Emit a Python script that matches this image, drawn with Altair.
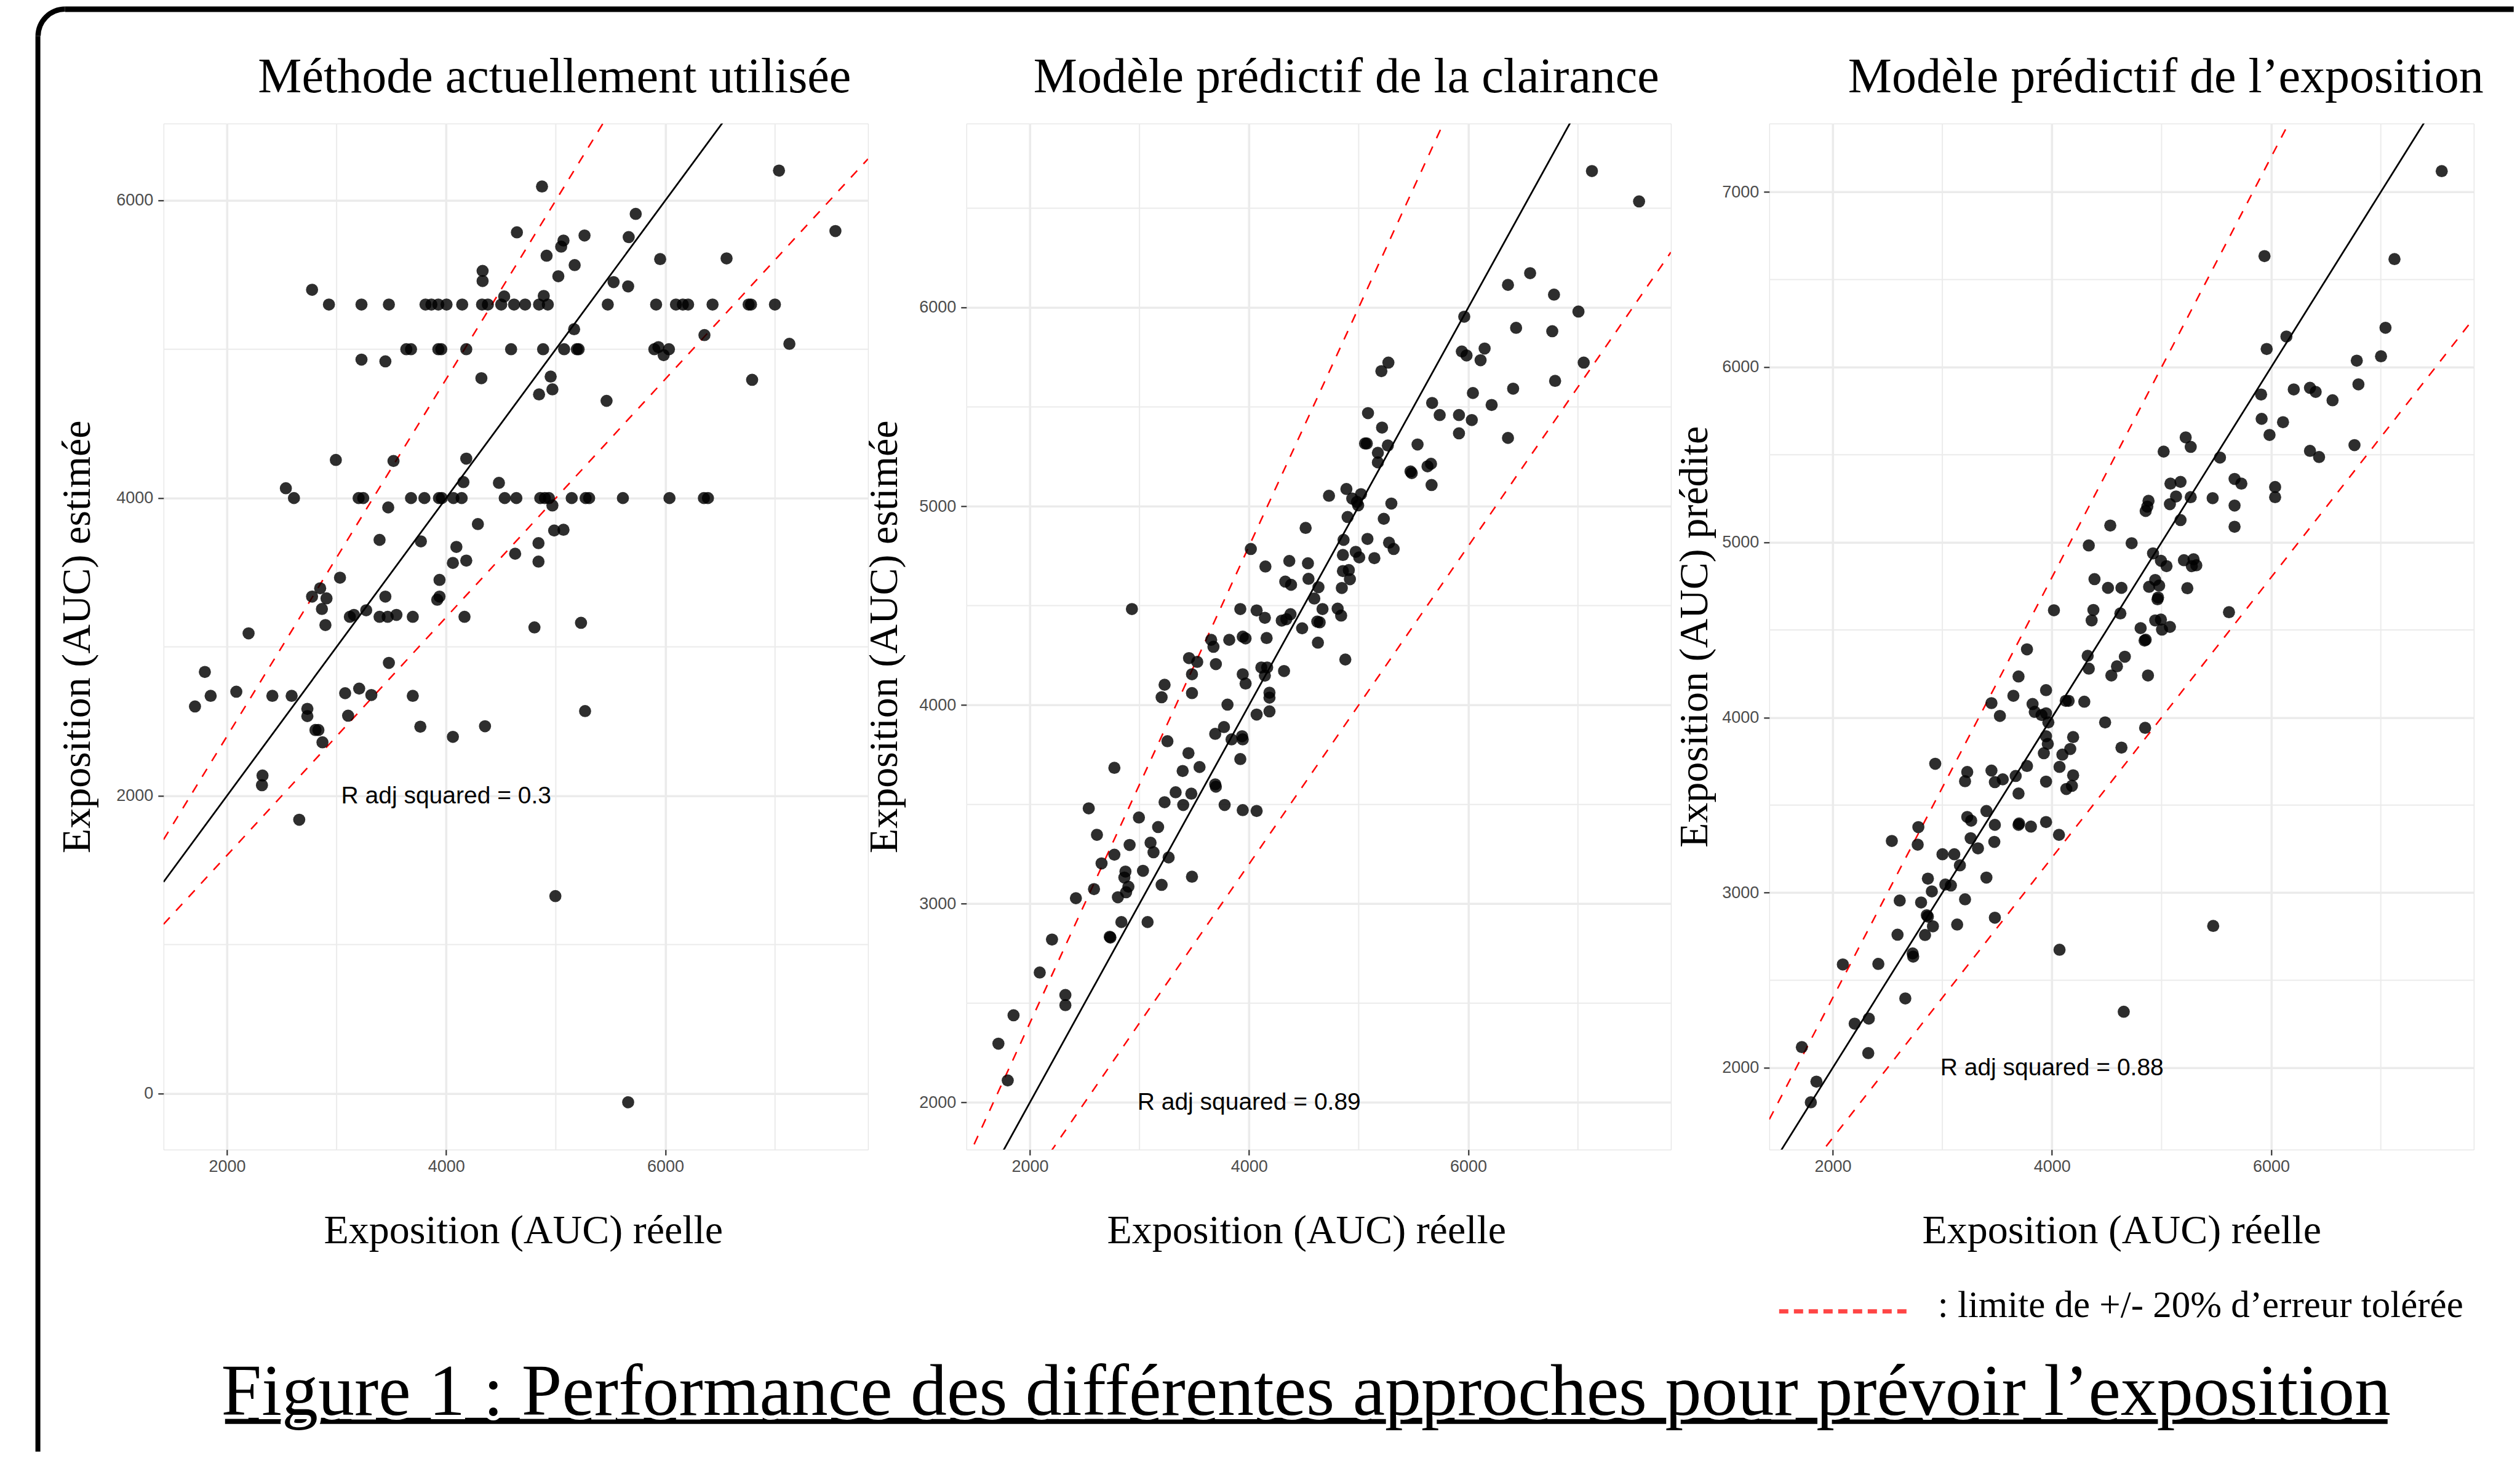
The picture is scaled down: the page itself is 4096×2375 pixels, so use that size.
import altair as alt
import pandas as pd

# ---------------- data ----------------
X_DOMAIN = [1421, 7848]
X_TICKS = [2000, 4000, 6000]
X_MINOR = [3000, 5000, 7000]
X_TITLE = "Exposition (AUC) réelle"
R2_POS = [4000, 2000]
SLOPE_SOLID = [1.0]
SLOPES_DASHED = [1.2, 0.8]

P1_TITLE = "Méthode actuellement utilisée"
P1_YTITLE = "Exposition (AUC) estimée"
P1_YDOMAIN = [-377, 6516]
P1_YTICKS = [0, 2000, 4000, 6000]
P1_YMINOR = [1000, 3000, 5000]
P1_R2 = "R adj squared = 0.3"
P1_X = [4874, 7036, 5729, 7551, 4645, 5070, 5049, 5262, 5665, 4916, 5952, 6558, 5172, 5023, 4332, 4332, 5527, 5660, 2776, 4529, 4890,
        2930, 3227, 3477, 3811, 3865, 3928, 4003, 4146, 4327, 4380, 4502, 4619, 4720, 4847, 4927, 5474, 5915, 6096, 6159, 6207, 6430, 6759, 6781, 6999,
        5167, 6356, 7131,
        3636, 3679, 3928, 3955, 4183, 4592, 4884, 5076, 5192, 5208, 5899, 5936, 6032,
        3227, 3445, 5984, 4321, 4953, 6791, 4969, 4847, 5463,
        2993, 3519, 4183, 4157, 4481, 2537,
        2611, 3201, 3243, 3679, 3801, 3934, 3960, 4066, 4141, 4534, 4640, 4858, 4900, 4937, 5145, 5272, 5304, 5612, 6037, 6351, 6388,
        3471, 4969, 4289, 4985, 5070,
        3392, 3769, 4842, 4093, 4629, 4061, 4183, 4842, 3031, 3939, 2850, 2776, 2908, 2866, 3445, 3918, 3939, 3270, 3121, 3158,
        3392, 3466, 3546, 3695, 4167, 2898, 4805, 5230, 2197, 3477, 1798, 1708, 1851, 2085, 2414, 2590, 2733, 2733, 3078, 3206,
        3317, 3695, 2807, 2834, 2871, 3105, 3764, 4061, 4354, 5267, 2324, 2319, 2659, 4996, 5660]
P1_Y = [6093, 6200, 5909, 5794, 5785, 5730, 5689, 5764, 5753, 5628, 5605, 5610, 5565, 5490, 5526, 5458, 5451, 5422, 5399, 5354, 5358,
        5300, 5300, 5300, 5300, 5300, 5300, 5300, 5300, 5300, 5300, 5300, 5300, 5300, 5300, 5300, 5300, 5300, 5300, 5300, 5300, 5300, 5300, 5300, 5300,
        5134, 5095, 5036,
        5000, 5000, 5000, 5000, 5000, 5000, 5000, 5000, 5000, 5000, 5000, 5014, 5000,
        4930, 4918, 4960, 4805, 4816, 4794, 4730, 4696, 4653,
        4256, 4249, 4265, 4107, 4102, 4066,
        4000, 4000, 4000, 4000, 4000, 4000, 4000, 4000, 4000, 4000, 4000, 4000, 4000, 4000, 4000, 4000, 4000, 4000, 4000, 4000, 4000,
        3937, 3950, 3825, 3782, 3787,
        3719, 3709, 3697, 3672, 3626, 3564, 3580, 3573, 3465, 3450, 3394, 3338, 3326, 3255, 3338, 3317, 3338, 3246, 3202, 3215,
        3202, 3202, 3215, 3202, 3202, 3147, 3131, 3162, 3091, 2893, 2832, 2600, 2671, 2699, 2671, 2671, 2584, 2535, 2689, 2720,
        2677, 2671, 2442, 2442, 2359, 2538, 2464, 2396, 2467, 2569, 2136, 2071, 1839, 1326, -59]

P2_TITLE = "Modèle prédictif de la clairance"
P2_YTITLE = "Exposition (AUC) estimée"
P2_YDOMAIN = [1763, 6926]
P2_YTICKS = [2000, 3000, 4000, 5000, 6000]
P2_YMINOR = [2500, 3500, 4500, 5500, 6500]
P2_R2 = "R adj squared = 0.89"
P2_X = [7128, 7558, 6564, 6362, 6782, 7005, 5963, 6436, 6766, 5941, 5984, 6149, 6112, 7053, 5271, 5207, 6409, 6792, 6042, 5670,
        6213, 5085, 5739, 5915, 6032, 5915, 5213, 6362, 5058, 5074, 5266, 5537, 5175, 5175, 5473, 5484, 5628, 5660, 5665, 4888,
        4729, 5021, 4941, 4995, 4984, 5298, 4899, 5229, 4516,
        4862, 5080, 5277, 5319, 4016, 4856, 4973, 5005, 4910, 5143, 4149, 4367, 4537, 4330, 4383, 4542, 4633, 4856, 4920, 4846,
        4595, 2931, 3920, 4069, 4144, 4670, 4808, 4840, 4298, 4340, 4378, 4644, 4622, 4484, 3654, 3675, 3819, 3942, 3968, 4160,
        4628, 4878, 3452, 3527, 3697, 3479, 3942, 3968, 4112, 4165, 4144, 4319, 3229, 3202, 3479, 4186, 4186, 3803, 4186, 4069,
        3771, 3691, 3840, 3936, 3942, 3255, 3447, 3920, 2771, 3394, 3548, 3691, 3697, 3330, 3473, 3229, 3399, 3777, 3942, 4069,
        2537, 2995, 3170, 2612, 2910, 3101, 3128, 2771, 3266, 2654, 2872, 2862, 3032, 3479, 2899, 2878, 2585, 3202, 2420, 2803,
        2835, 3074, 2729, 2735, 2202, 2090, 2324, 2324, 1851, 1713, 1798]
P2_Y = [6687, 6534, 6173, 6114, 6065, 5980, 5954, 5898, 5881, 5779, 5759, 5794, 5735, 5723, 5723, 5680, 5592, 5631, 5570, 5520,
        5510, 5469, 5459, 5459, 5434, 5367, 5396, 5344, 5316, 5316, 5306, 5311, 5269, 5221, 5175, 5167, 5201, 5214, 5107, 5087,
        5053, 5061, 5039, 5005, 5022, 5014, 4946, 4937, 4891,
        4831, 4836, 4817, 4785, 4785, 4755, 4771, 4743, 4679, 4739, 4697, 4725, 4713, 4621, 4605, 4635, 4593, 4674, 4633, 4589,
        4536, 4483, 4483, 4476, 4439, 4483, 4485, 4450, 4425, 4432, 4457, 4416, 4420, 4386, 4328, 4293, 4328, 4344, 4335, 4337,
        4314, 4229, 4236, 4217, 4206, 4155, 4155, 4108, 4189, 4189, 4148, 4171, 4102, 4039, 4060, 4062, 4037, 4002, 3968, 3952,
        3889, 3855, 3827, 3843, 3827, 3818, 3758, 3728, 3684, 3668, 3688, 3601, 3589, 3561, 3554, 3511, 3497, 3497, 3471, 3467,
        3480, 3434, 3386, 3347, 3296, 3307, 3259, 3247, 3233, 3203, 3162, 3132, 3166, 3136, 3086, 3058, 3074, 3095, 3028, 3033,
        2908, 2908, 2834, 2830, 2820, 2654, 2541, 2490, 2439, 2296, 2111]

P3_TITLE = "Modèle prédictif de l’exposition"
P3_YTITLE = "Exposition (AUC) prédite"
P3_YDOMAIN = [1533, 7391]
P3_YTICKS = [2000, 3000, 4000, 5000, 6000, 7000]
P3_YMINOR = [2500, 3500, 4500, 5500, 6500]
P3_R2 = "R adj squared = 0.88"
P3_X = [7556, 5939, 7125, 7043, 6139, 5959, 6781, 7002, 6796, 5908, 6206, 6354, 6406, 6560, 5913, 6108, 5985, 5220, 5266, 5019,
        5533, 6354, 6437, 6760, 5666, 5728, 5081, 5173, 6036, 6036, 4881, 4870, 4855, 5132, 5266, 5076, 5466, 5666, 5173, 4532, 5666,
        4336, 4727, 4922, 5204, 5292, 5276, 5317, 4994, 5045, 4388, 4511, 4634, 4886, 4942, 4978, 5235, 4963, 4968, 4018, 4378,
        4362, 4624, 5615, 4809, 4942, 4994, 5004, 5076, 4855, 4845, 3772, 4326, 4336, 4665, 4593, 4542, 4876, 3695, 3946, 3648,
        3448, 3823, 3843, 3905, 3946, 3967, 3525, 4152, 4126, 4295, 4485, 4850, 4193, 3946, 3962, 3926, 4167, 4095, 4634, 2935,
        3772, 4069, 3227, 3207, 3448, 3479, 3551, 3669, 3946, 4193, 4182, 4131, 3695, 3402, 3227, 3263, 3479, 3695, 3700, 3808,
        3946, 2781, 2539, 2775, 3258, 3474, 3325, 4064, 3001, 3109, 3160, 3402, 2868, 3027, 3078, 2904, 3207, 2611, 2806, 2858,
        2868, 2914, 3479, 3135, 2591, 2842, 5471, 2729, 2734, 4069, 2092, 2416, 2662, 2200, 2329, 4655, 2324, 1718, 1851, 1800]
P3_Y = [7119, 6634, 6617, 6225, 6175, 6104, 6037, 6062, 5902, 5844, 5873, 5882, 5859, 5811, 5705, 5686, 5613, 5599, 5545, 5518,
        5484, 5522, 5487, 5555, 5362, 5335, 5335, 5345, 5316, 5258, 5237, 5204, 5179, 5262, 5258, 5218, 5252, 5210, 5127, 5096, 5089,
        4982, 4995, 4937, 4898, 4903, 4864, 4869, 4895, 4864, 4790, 4740, 4740, 4746, 4785, 4753, 4738, 4675, 4685, 4612, 4614,
        4554, 4594, 4601, 4510, 4554, 4559, 4502, 4517, 4444, 4439, 4389, 4352, 4279, 4347, 4292, 4240, 4240, 4234, 4156, 4124,
        4082, 4077, 4032, 4014, 4024, 3972, 4009, 4095, 4095, 4090, 3972, 3941, 3888, 3893, 3849, 3796, 3820, 3788, 3828, 3736,
        3723, 3718, 3689, 3636, 3697, 3631, 3647, 3666, 3634, 3670, 3610, 3592, 3566, 3466, 3432, 3411, 3387, 3387, 3395, 3377,
        3403, 3374, 3295, 3274, 3311, 3290, 3253, 3330, 3219, 3219, 3156, 3086, 3080, 3046, 3041, 3007, 2962, 2955, 2944, 2871,
        2863, 2808, 2857, 2818, 2760, 2758, 2810, 2653, 2635, 2674, 2590, 2593, 2396, 2252, 2281, 2320, 2084, 2118, 1921, 1803]

LEGEND_TEXT = ": limite de +/- 20% d’erreur tolérée"
FOOTER_TEXT = "Figure 1 : Performance des différentes approches pour prévoir l’exposition"

# ---------------- styling ----------------
W, H = 1145, 1668
SERIF = "Liberation Serif"
SANS = "Liberation Sans"
GRID = "#EBEBEB"
ONE = pd.DataFrame({"k": [0]})


def ref_lines(slopes):
    rows = []
    for k in slopes:
        for xv in X_DOMAIN:
            rows.append({"k": k, "x": xv, "y": k * xv})
    return pd.DataFrame(rows)


def panel(xs, ys, ydomain, yticks, yminor, title, ytitle, r2,
          title_dx, ytitle_x, xtitle_dx, decor=None):
    xsc = alt.Scale(domain=X_DOMAIN, nice=False, zero=False)
    ysc = alt.Scale(domain=ydomain, nice=False, zero=False)
    common = dict(grid=True, gridColor=GRID, gridWidth=3.6, domain=False,
                  ticks=True, tickColor="#333333", tickSize=9, tickWidth=2.2,
                  labelFont=SANS, labelFontSize=27, labelColor="#4D4D4D",
                  titleFont=SERIF, titleFontSize=66, titleFontWeight="normal",
                  titleColor="black", format="d")
    xax = alt.Axis(values=X_TICKS, title=X_TITLE, labelPadding=6,
                   titleX=W / 2 + xtitle_dx, titleY=132, titleAlign="center",
                   titleBaseline="middle", **common)
    yax = alt.Axis(values=yticks, title=ytitle, labelPadding=8,
                   titleX=ytitle_x, titleY=H / 2, titleAngle=270,
                   titleAlign="center", titleBaseline="middle", **common)

    vminor = alt.Chart(pd.DataFrame({"v": X_MINOR})).mark_rule(
        color=GRID, strokeWidth=2.0).encode(x=alt.X("v:Q", scale=xsc, axis=xax))
    hminor = alt.Chart(pd.DataFrame({"v": yminor})).mark_rule(
        color=GRID, strokeWidth=2.0).encode(y=alt.Y("v:Q", scale=ysc, axis=yax))

    solid = alt.Chart(ref_lines(SLOPE_SOLID)).mark_line(
        color="black", strokeWidth=2.8, clip=True).encode(
        x=alt.X("x:Q", scale=xsc, axis=xax), y=alt.Y("y:Q", scale=ysc, axis=yax),
        detail="k:N")
    dashed = alt.Chart(ref_lines(SLOPES_DASHED)).mark_line(
        color="#FF0000", strokeWidth=2.5, strokeDash=[15, 15], clip=True).encode(
        x=alt.X("x:Q", scale=xsc, axis=xax), y=alt.Y("y:Q", scale=ysc, axis=yax),
        detail="k:N")
    pts = alt.Chart(pd.DataFrame({"x": xs, "y": ys})).mark_circle(
        size=390, color="black", opacity=0.82).encode(
        x=alt.X("x:Q", scale=xsc, axis=xax), y=alt.Y("y:Q", scale=ysc, axis=yax))
    txt = alt.Chart(pd.DataFrame({"x": [R2_POS[0]], "y": [R2_POS[1]], "t": [r2]})).mark_text(
        font=SANS, fontSize=39, color="black", align="center", baseline="middle").encode(
        x=alt.X("x:Q", scale=xsc, axis=xax), y=alt.Y("y:Q", scale=ysc, axis=yax), text="t:N")
    ttl = alt.Chart(ONE).mark_text(text=title, font=SERIF, fontSize=80, color="black",
                                   align="center", baseline="alphabetic").encode(
        x=alt.value(W / 2 + title_dx), y=alt.value(-51))

    layers = (decor or []) + [vminor, hminor, solid, dashed, pts, txt, ttl]
    return alt.layer(*layers).properties(width=W, height=H)


# ---------------- decorations (relative to panel 1 plot origin) ----------------
BX, BY = -208.2, -190.2       # outer left / top edge of the frame
R_OUT = 48
decor = [
    alt.Chart(ONE).mark_rect(color="black").encode(
        x=alt.value(BX + R_OUT), x2=alt.value(3820), y=alt.value(BY), y2=alt.value(BY + 9)),
    alt.Chart(ONE).mark_rect(color="black").encode(
        x=alt.value(BX), x2=alt.value(BX + 8), y=alt.value(BY + R_OUT), y2=alt.value(2159)),
    alt.Chart(ONE).mark_arc(color="black", radius=R_OUT, radius2=R_OUT - 8.5,
                            theta=4.712389, theta2=6.283185).encode(
        x=alt.value(BX + R_OUT), y=alt.value(BY + R_OUT)),
    # legend
    alt.Chart(ONE).mark_rule(color="#FF4545", strokeWidth=7, strokeDash=[15, 9]).encode(
        x=alt.value(2626), x2=alt.value(2840), y=alt.value(1931)),
    alt.Chart(ONE).mark_text(text=LEGEND_TEXT, font=SERIF, fontSize=61, color="black",
                             align="left", baseline="alphabetic").encode(
        x=alt.value(2884), y=alt.value(1940)),
    # footer with underline
    alt.Chart(ONE).mark_rect(color="black").encode(
        x=alt.value(100), x2=alt.value(3615), y=alt.value(2104), y2=alt.value(2114)),
    alt.Chart(ONE).mark_text(text=FOOTER_TEXT, font=SERIF, fontSize=118, color="white",
                             stroke="white", strokeWidth=14,
                             align="center", baseline="alphabetic").encode(
        x=alt.value(1857), y=alt.value(2099)),
    alt.Chart(ONE).mark_text(text=FOOTER_TEXT, font=SERIF, fontSize=118, color="black",
                             align="center", baseline="alphabetic").encode(
        x=alt.value(1857), y=alt.value(2099)),
]

p1 = panel(P1_X, P1_Y, P1_YDOMAIN, P1_YTICKS, P1_YMINOR, P1_TITLE, P1_YTITLE, P1_R2,
           title_dx=63, ytitle_x=-140, xtitle_dx=12, decor=decor)
p2 = panel(P2_X, P2_Y, P2_YDOMAIN, P2_YTICKS, P2_YMINOR, P2_TITLE, P2_YTITLE, P2_R2,
           title_dx=45, ytitle_x=-133, xtitle_dx=-20)
p3 = panel(P3_X, P3_Y, P3_YDOMAIN, P3_YTICKS, P3_YMINOR, P3_TITLE, P3_YTITLE, P3_R2,
           title_dx=72, ytitle_x=-121, xtitle_dx=0)

chart = alt.hconcat(p1, p2, p3, spacing=160).properties(
    bounds="flush",
    padding={"left": 48.8, "top": 1.8, "right": 0, "bottom": 0},
).configure_view(strokeWidth=0).configure(background="white")

chart.save("out.html", embed_options={"renderer": "svg", "actions": False})
